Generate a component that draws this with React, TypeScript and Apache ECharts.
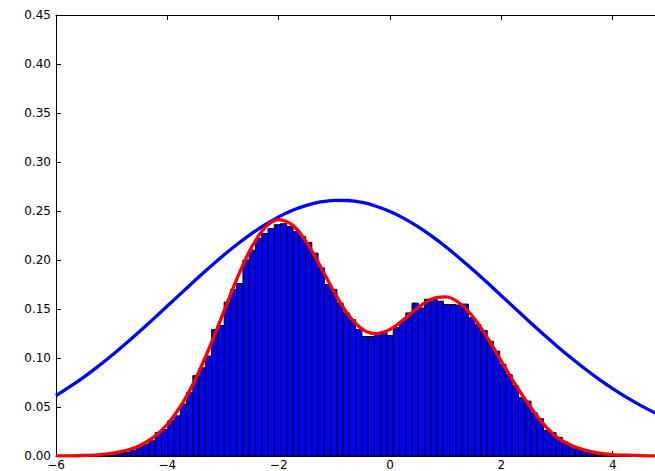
import React, { useEffect, useRef } from "react";
import * as echarts from "echarts";

// Histogram: bins of equal width starting at binStart
const binStart = -5.792;
const binWidth = 0.1125;
const binHeights = [
  0.0001, 0, 0.0002, 0.0003, 0.0004, 0.0006, 0.001, 0.002, 0.003, 0.004,
  0.006, 0.009, 0.012, 0.0155, 0.024, 0.027, 0.036, 0.041, 0.053, 0.065,
  0.082, 0.09, 0.102, 0.129, 0.133, 0.157, 0.17, 0.176, 0.2, 0.21,
  0.222, 0.227, 0.232, 0.236, 0.237, 0.234, 0.229, 0.224, 0.218, 0.207,
  0.192, 0.175, 0.17, 0.156, 0.146, 0.139, 0.129, 0.122, 0.122, 0.124,
  0.127, 0.123, 0.131, 0.1375, 0.146, 0.156, 0.151, 0.16, 0.16, 0.158,
  0.1545, 0.1545, 0.154, 0.155, 0.141, 0.134, 0.128, 0.117, 0.107, 0.0935,
  0.083, 0.0715, 0.0596, 0.056, 0.044, 0.038, 0.026, 0.024, 0.019, 0.014,
  0.0105, 0.007, 0.005, 0.0037, 0.002, 0.0015, 0.002, 0.001, 0.0008, 0.0005,
  0.0004, 0.0003, 0.0002, 0.0001, 0, 0.0001, 0, 0, 0, 0.0001,
];

// Red curve (two-peaked density)
const redX = [
  -6, -5.75, -5.5, -5.25, -5, -4.75, -4.5, -4.25, -4, -3.75, -3.5, -3.25, -3,
  -2.75, -2.5, -2.25, -2, -1.75, -1.5, -1.25, -1, -0.75, -0.5, -0.25, 0, 0.25,
  0.5, 0.75, 1, 1.25, 1.5, 1.75, 2, 2.25, 2.5, 2.75, 3, 3.25, 3.5, 3.75, 4,
  4.25, 4.5, 4.75, 5, 5.5, 6,
];
const redY = [
  0.0001, 0.0002, 0.0005, 0.0012, 0.0027, 0.0055, 0.0105, 0.019, 0.0324,
  0.0519, 0.0778, 0.1097, 0.1453, 0.181, 0.2116, 0.2328, 0.2412, 0.2356,
  0.2183, 0.1934, 0.1668, 0.1441, 0.1295, 0.1248, 0.1292, 0.1394, 0.1513,
  0.1602, 0.1623, 0.1559, 0.1413, 0.1204, 0.0968, 0.073, 0.0518, 0.033,
  0.019, 0.011, 0.006, 0.003, 0.0015, 0.0008, 0.0003, 0.0001, 0.0001, 0, 0,
];

// Blue curve (wide single bell)
const blueX = [
  -6, -5.75, -5.5, -5.25, -5, -4.75, -4.5, -4.25, -4, -3.75, -3.5, -3.25, -3,
  -2.75, -2.5, -2.25, -2, -1.75, -1.5, -1.25, -1, -0.75, -0.5, -0.25, 0, 0.25,
  0.5, 0.75, 1, 1.25, 1.5, 1.75, 2, 2.25, 2.5, 2.75, 3, 3.25, 3.5, 3.75, 4,
  4.25, 4.5, 4.75, 5, 5.25, 5.5, 6,
];
const blueY = [
  0.0615, 0.0707, 0.0805, 0.0912, 0.1026, 0.1146, 0.1271, 0.1399, 0.153,
  0.1662, 0.1793, 0.192, 0.2043, 0.2158, 0.2264, 0.2359, 0.244, 0.2507,
  0.2558, 0.2592, 0.2609, 0.2607, 0.2587, 0.2549, 0.2495, 0.2425, 0.2341,
  0.2244, 0.2136, 0.2019, 0.1895, 0.1767, 0.1636, 0.1504, 0.1373, 0.1245,
  0.1121, 0.1002, 0.089, 0.0785, 0.0688, 0.0598, 0.0517, 0.0443, 0.0377,
  0.0319, 0.0268, 0.0185,
];

const xMin = -6;
const xMax = 4.76;
const xInterval = 2;
const yMin = 0;
const yMax = 0.45;
const yInterval = 0.05;

const FONT = "DejaVu Sans";

function fmtX(v: number): string {
  const r = Math.round(v);
  if (Math.abs(v - r) > 1e-9 || r % 2 !== 0) return "";
  return r < 0 ? "\u2212" + Math.abs(r) : String(r);
}

export default function App() {
  const ref = useRef<HTMLDivElement>(null);
  useEffect(() => {
    if (!ref.current) return;
    const chart = echarts.init(ref.current, null, { renderer: "svg" });
    const histData = binHeights.map((h, i) => [
      binStart + i * binWidth,
      binStart + (i + 1) * binWidth,
      h,
    ]);
    const option: any = {
      animation: false,
      grid: { left: 56, top: 15, right: 0, bottom: 14, containLabel: false },
      xAxis: [
        {
          type: "value",
          position: "bottom",
          min: xMin,
          max: xMax,
          interval: xInterval,
          splitLine: { show: false },
          axisLine: { show: true, onZero: false, lineStyle: { color: "#000", width: 1 } },
          axisTick: { show: true, inside: true, length: 5, lineStyle: { color: "#000" } },
          axisLabel: {
            show: true,
            margin: 3,
            color: "#000",
            fontFamily: FONT,
            fontSize: 12,
            formatter: fmtX,
            showMaxLabel: false,
          },
        },
        {
          type: "value",
          position: "top",
          min: xMin,
          max: xMax,
          interval: xInterval,
          splitLine: { show: false },
          axisLine: { show: true, onZero: false, lineStyle: { color: "#000", width: 1 } },
          axisTick: { show: true, inside: true, length: 5, lineStyle: { color: "#000" } },
          axisLabel: { show: false },
        },
      ],
      yAxis: {
        type: "value",
        min: yMin,
        max: yMax,
        interval: yInterval,
        splitLine: { show: false },
        axisLine: { show: true, onZero: false, lineStyle: { color: "#000", width: 1 } },
        axisTick: { show: true, inside: true, length: 5, lineStyle: { color: "#000" } },
        axisLabel: {
          color: "#000",
          fontFamily: FONT,
          fontSize: 12,
          margin: 5,
          formatter: (v: number) => v.toFixed(2),
        },
      },
      series: [
        {
          type: "custom",
          xAxisIndex: 0,
          clip: true,
          data: histData,
          encode: { x: [0, 1], y: 2 },
          renderItem: (params: any, api: any) => {
            const x0 = api.value(0);
            const x1 = api.value(1);
            const h = api.value(2);
            const p0 = api.coord([x0, h]);
            const p1 = api.coord([x1, 0]);
            return {
              type: "rect",
              shape: {
                x: p0[0],
                y: p0[1],
                width: p1[0] - p0[0],
                height: p1[1] - p0[1],
              },
              style: { fill: "#0000ff", stroke: "#000000", lineWidth: 1 },
            };
          },
          z: 1,
        },
        {
          type: "line",
          xAxisIndex: 0,
          data: blueX.map((x, i) => [x, blueY[i]]),
          showSymbol: false,
          symbol: "none",
          smooth: 0.3,
          clip: true,
          lineStyle: { color: "#0000ff", width: 3.3 },
          z: 2,
        },
        {
          type: "line",
          xAxisIndex: 0,
          data: redX.map((x, i) => [x, redY[i]]),
          showSymbol: false,
          symbol: "none",
          smooth: 0.3,
          clip: true,
          lineStyle: { color: "#ff0000", width: 3.3 },
          z: 3,
        },
      ],
    };
    chart.setOption(option);
    return () => {
      chart.dispose();
    };
  }, []);
  return (
    <div
      ref={ref}
      style={{
        position: "fixed",
        left: 0,
        top: 0,
        width: 655,
        height: 471,
        background: "#fff",
      }}
    />
  );
}
